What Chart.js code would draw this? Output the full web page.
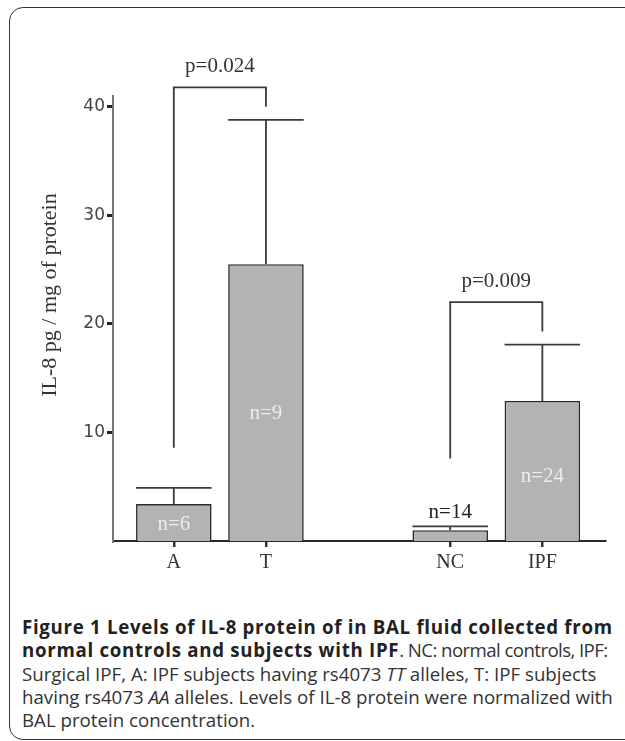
<!DOCTYPE html>
<html>
<head>
<meta charset="utf-8">
<script src="https://cdn.jsdelivr.net/npm/chart.js@4.4.1/dist/chart.umd.min.js"></script>
<style>
  html, body { margin: 0; padding: 0; background: #fff; overflow: hidden; }
  body { width: 625px; height: 741px; position: relative; }
  .frame {
    position: absolute; left: 9px; top: 7px; width: 700px; height: 731px;
    border: 1.5px solid #333; border-radius: 14px;
  }
  .plot { position: absolute; left: 0; top: 0; width: 625px; height: 600px; }
  .caption {
    position: absolute; left: 22px; top: 615px; width: 600px;
    font-family: "Open Sans", sans-serif; font-size: 18.7px; line-height: 23.3px;
    color: #333; white-space: nowrap;
  }
  .caption b { font-weight: 700; color: #222; letter-spacing: 0.7px; }
  .caption .tight { letter-spacing: -0.6px; }
</style>
</head>
<body>
<div class="frame"></div>
<div class="plot"><canvas id="chart" width="625" height="600"></canvas></div>
<div class="caption">
<b>Figure 1 Levels of IL-8 protein of in BAL fluid collected from</b><br>
<b>normal controls and subjects with IPF</b><span class="tight">. NC: normal controls, IPF:</span><br>
Surgical IPF, A: IPF subjects having rs4073 <i>TT</i> alleles, T: IPF subjects<br>
having rs4073 <i>AA</i> alleles. Levels of IL-8 protein were normalized with<br>
BAL protein concentration.
</div>
<script>
// categories on the x axis ('' = empty slot between the two groups)
const categories = ['A', 'T', '', 'NC', 'IPF'];
const barCats = ['A', 'T', 'NC', 'IPF'];
const means = [3.4, 25.5, 1.0, 12.9];
const errors = [1.5, 13.3, 0.35, 5.2];
const nLabels = ['n=6', 'n=9', 'n=14', 'n=24'];
const nInside = [true, true, false, true];
const yTicks = [10, 20, 30, 40];

// significance brackets
const bracketFrom = ['A', 'NC'];
const bracketTo = ['T', 'IPF'];
const bracketLeftEnd = [8.6, 7.6];
const bracketTop = [41.8, 22.0];
const bracketRightEnd = [40.0, 19.3];
const pLabels = ['p=0.024', 'p=0.009'];

const yTitle = 'IL-8 pg / mg of protein';

const points = barCats.map((c, i) => ({ x: categories.indexOf(c), y: means[i] }));

const extras = {
    id: 'extras',
    afterDatasetsDraw(chart) {
        const ctx = chart.ctx;
        const xs = chart.scales.x;
        const ys = chart.scales.y;
        const meta = chart.getDatasetMeta(0);
        ctx.save();
        ctx.strokeStyle = '#3a3a3a';
        ctx.lineWidth = 1.8;
        // error bars
        meta.data.forEach((bar, i) => {
            const top = ys.getPixelForValue(means[i] + errors[i]);
            ctx.beginPath();
            ctx.moveTo(bar.x, bar.y);
            ctx.lineTo(bar.x, top);
            ctx.moveTo(bar.x - bar.width / 2, top);
            ctx.lineTo(bar.x + bar.width / 2, top);
            ctx.stroke();
        });
        // brackets
        ctx.font = '21px "Liberation Serif"';
        ctx.textAlign = 'center';
        ctx.textBaseline = 'middle';
        ctx.fillStyle = '#333';
        bracketFrom.forEach((from, i) => {
            const x1 = xs.getPixelForValue(categories.indexOf(from));
            const x2 = xs.getPixelForValue(categories.indexOf(bracketTo[i]));
            const yt = ys.getPixelForValue(bracketTop[i]);
            ctx.beginPath();
            ctx.moveTo(x1, ys.getPixelForValue(bracketLeftEnd[i]));
            ctx.lineTo(x1, yt);
            ctx.lineTo(x2, yt);
            ctx.lineTo(x2, ys.getPixelForValue(bracketRightEnd[i]));
            ctx.stroke();
            ctx.fillText(pLabels[i], (x1 + x2) / 2, yt - 21);
        });
        // n labels
        meta.data.forEach((bar, i) => {
            if (nInside[i]) {
                ctx.fillStyle = '#ececec';
                ctx.fillText(nLabels[i], bar.x, bar.base - (bar.base - bar.y) * 0.46);
            } else {
                ctx.fillStyle = '#222';
                ctx.fillText(nLabels[i], bar.x, ys.getPixelForValue(means[i] + errors[i]) - 14);
            }
        });
        // y axis title
        ctx.fillStyle = '#333';
        ctx.font = '22px "Liberation Serif"';
        ctx.translate(50, 295);
        ctx.rotate(-Math.PI / 2);
        ctx.fillText(yTitle, 0, 0);
        ctx.restore();
    }
};

new Chart(document.getElementById('chart'), {
    type: 'bar',
    data: {
        datasets: [{
            data: points,
            backgroundColor: '#b3b3b3',
            borderColor: '#2a2a2a',
            borderWidth: 1.6,
            barPercentage: 0.82,
            categoryPercentage: 1
        }]
    },
    options: {
        responsive: false,
        animation: false,
        layout: { padding: { top: 96, right: 20, left: 0, bottom: 0 } },
        plugins: { legend: { display: false }, tooltip: { enabled: false } },
        scales: {
            x: {
                type: 'linear',
                min: -0.66,
                max: 4.68,
                offset: false,
                afterBuildTicks: (scale) => {
                    scale.ticks = barCats.map(c => ({ value: categories.indexOf(c) }));
                },
                afterFit: (scale) => { scale.height = 59; },
                ticks: {
                    callback: (v) => categories[v],
                    font: { family: 'Liberation Serif', size: 20 },
                    color: '#333',
                    padding: 4,
                    maxRotation: 0
                },
                grid: { offset: false, drawOnChartArea: false, tickLength: 6, lineWidth: 2.5, color: '#333' },
                border: { color: '#2a2a2a', width: 2 }
            },
            y: {
                min: 0,
                max: 41,
                afterBuildTicks: (scale) => {
                    scale.ticks = yTicks.map(v => ({ value: v }));
                },
                afterFit: (scale) => { scale.width = 113; },
                ticks: {
                    font: { family: 'DejaVu Sans', size: 17 },
                    color: '#444',
                    padding: 2
                },
                grid: { drawOnChartArea: false, tickLength: 6, lineWidth: 3, color: '#222' },
                border: { color: '#777', width: 2 }
            }
        }
    },
    plugins: [extras]
});
</script>
</body>
</html>
